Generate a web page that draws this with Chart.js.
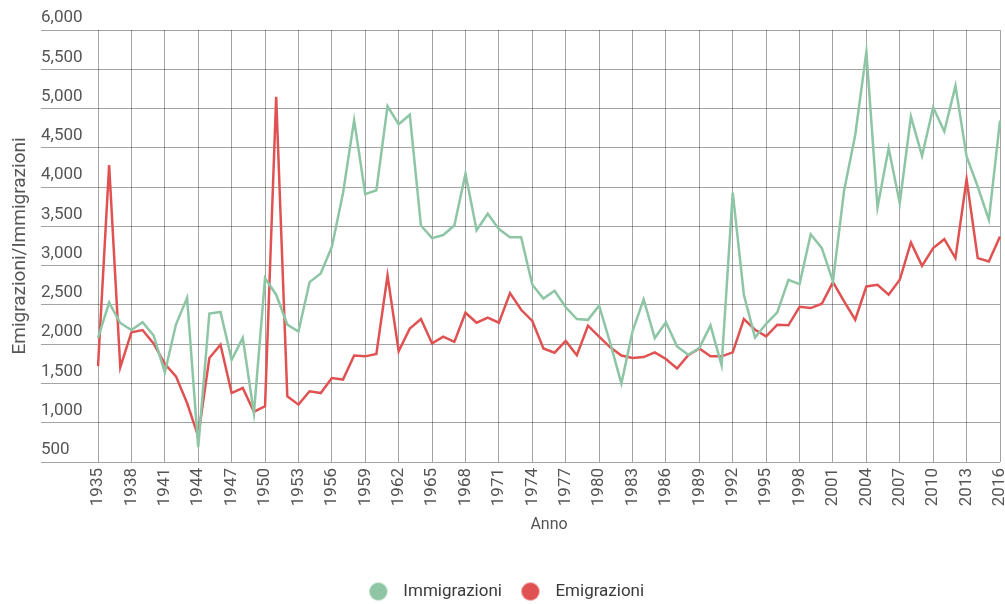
<!DOCTYPE html>
<html>
<head>
<meta charset="utf-8">
<script src="https://cdn.jsdelivr.net/npm/chart.js@4"></script>
<style>
  html, body { margin: 0; padding: 0; background: #fff; }
  #wrap { width: 1005px; height: 604px; position: relative; }
</style>
</head>
<body>
<div id="wrap"><canvas id="c"></canvas></div>
<script>
const years = [];
for (let y = 1935; y <= 2016; y++) years.push(String(y));

const immigrazioni = [
  2080, 2530, 2270, 2180, 2280, 2110, 1640, 2250, 2590, 690,
  2390, 2410, 1800, 2080, 1120, 2840, 2630, 2250, 2160, 2790,
  2900, 3240, 3920, 4850, 3910, 3960, 5030, 4800, 4920, 3510,
  3350, 3390, 3510, 4170, 3450, 3660, 3465, 3360, 3360, 2756,
  2580, 2680, 2470, 2320, 2310, 2490, 2014, 1500, 2163, 2570,
  2078, 2280, 1972, 1866, 1950, 2240, 1730, 3930, 2630, 2085,
  2260, 2404, 2820, 2765, 3400, 3223, 2800, 3956, 4664, 5720,
  3744, 4494, 3795, 4898, 4397, 5016, 4707, 5288, 4389, 4007,
  3583, 4847
];

const emigrazioni = [
  1720, 4280, 1705, 2150, 2180, 2006, 1750, 1590, 1251, 827,
  1824, 1993, 1378, 1442, 1140, 1209, 5150, 1336, 1230, 1400,
  1378, 1569, 1550, 1855, 1845, 1876, 2873, 1908, 2200, 2320,
  2010, 2095, 2030, 2400, 2273, 2338, 2273, 2650, 2438, 2296,
  1945, 1892, 2042, 1860, 2235, 2095, 1960, 1855, 1823, 1836,
  1896, 1811, 1690, 1860, 1945, 1845, 1845, 1896, 2320, 2184,
  2099, 2248, 2240, 2475, 2460, 2515, 2790, 2545, 2311, 2735,
  2757, 2630, 2820, 3295, 2998, 3223, 3337, 3096, 4100, 3096,
  3053, 3371
];

const seriesNames = ['Immigrazioni', 'Emigrazioni'];
const yTitle = 'Emigrazioni/Immigrazioni';
const xTitle = 'Anno';
const yMin = 500, yMax = 6000, yStep = 500;

const GRID = 'rgba(0,0,0,0.36)';
const GREEN = '#8dc5a5';
const RED = '#e05252';

// legend marker: circle drawn left of the canvas centre to widen the gap before the text
function legendDot(color) {
  const c = document.createElement('canvas');
  c.width = 40; c.height = 20;
  const g = c.getContext('2d');
  g.fillStyle = color;
  g.beginPath();
  g.arc(12, 10, 9, 0, Math.PI * 2);
  g.fill();
  return c;
}

const legendShift = {
  id: 'legendShift',
  afterLayout(chart) { if (chart.legend) chart.legend.left += 22; }
};

new Chart(document.getElementById('c'), {
  type: 'line',
  data: {
    labels: years,
    datasets: [
      { label: seriesNames[0], data: immigrazioni, borderColor: GREEN, backgroundColor: GREEN,
        pointStyle: legendDot(GREEN),
        borderWidth: 2.5, pointRadius: 0, pointHoverRadius: 0, tension: 0, fill: false },
      { label: seriesNames[1], data: emigrazioni, borderColor: RED, backgroundColor: RED,
        pointStyle: legendDot(RED),
        borderWidth: 2.5, pointRadius: 0, pointHoverRadius: 0, tension: 0, fill: false }
    ]
  },
  plugins: [legendShift],
  options: {
    responsive: true,
    maintainAspectRatio: false,
    animation: false,
    layout: { padding: { top: 30, right: 5, left: 0, bottom: -6 } },
    plugins: {
      tooltip: { enabled: false },
      legend: {
        position: 'bottom',
        labels: {
          usePointStyle: true,
          boxWidth: 17,
          boxHeight: 17,
          padding: 28,
          color: '#3a3a3a',
          font: { family: 'Roboto', size: 17 }
        }
      }
    },
    scales: {
      x: {
        ticks: {
          autoSkip: false,
          minRotation: 90,
          maxRotation: 90,
          padding: 6,
          color: '#555',
          font: { family: 'Roboto', size: 17 },
          callback: function(v, i) { return i % 3 === 0 ? this.getLabelForValue(v) : ''; }
        },
        grid: {
          drawTicks: false,
          lineWidth: 1,
          color: (ctx) => (ctx.index % 3 === 0 ? GRID : 'rgba(0,0,0,0)')
        },
        border: { display: false },
        title: {
          display: true, text: xTitle, color: '#555',
          font: { family: 'Roboto', size: 16 },
          padding: { top: 4, bottom: 20 }
        },
        afterFit: (s) => { s.paddingLeft = 0; s.paddingRight = 0; s.height = 93; }
      },
      y: {
        min: yMin, max: yMax,
        ticks: {
          stepSize: yStep,
          mirror: true,
          padding: -57,
          labelOffset: -12,
          color: '#555',
          font: { family: 'Roboto', size: 17 },
          callback: (v) => Number(v).toLocaleString('en-US')
        },
        grid: { color: GRID, lineWidth: 1, tickLength: 57, tickColor: GRID },
        border: { display: false },
        title: {
          display: true, text: yTitle, color: '#555',
          font: { family: 'Roboto', size: 19 },
          padding: { top: 9, bottom: 4 }
        },
        afterFit: (s) => { s.width = 98; }
      }
    }
  }
});
</script>
</body>
</html>
